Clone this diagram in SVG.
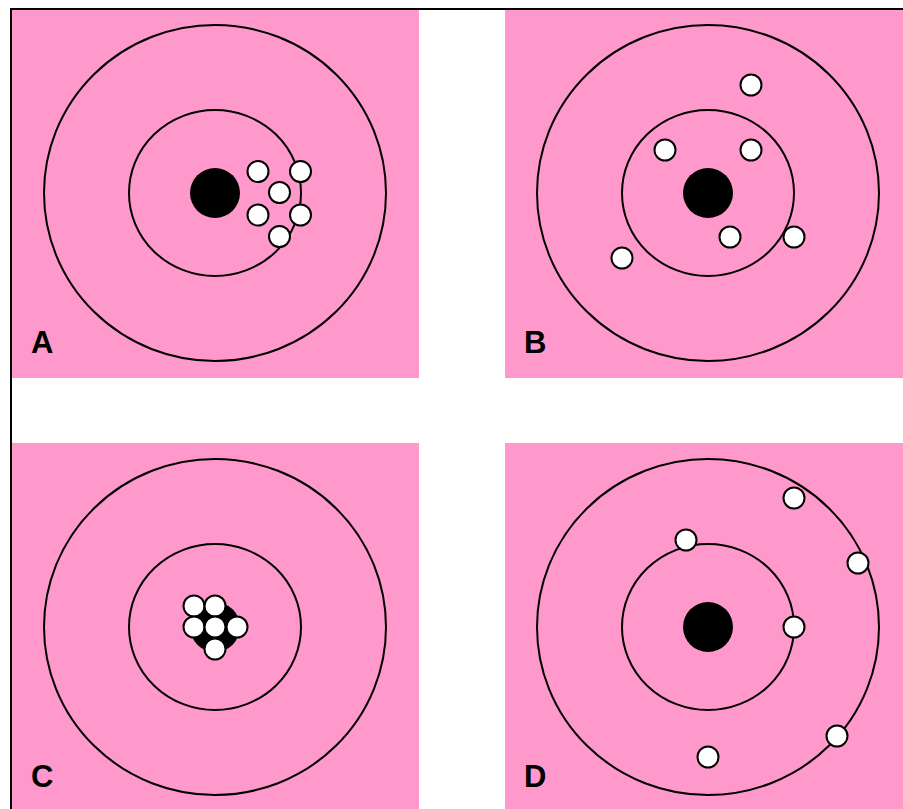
<svg xmlns="http://www.w3.org/2000/svg" width="903" height="809" viewBox="0 0 903 809">
<style>
.bg{fill:#ff99cc}
.ring{fill:none;stroke:#000;stroke-width:2}
.bull{fill:#000}
.shot{fill:#fff;stroke:#000;stroke-width:2}
.lbl{font-family:"Liberation Sans",Arial,sans-serif;font-weight:bold;font-size:31px;fill:#000}
.frame{stroke:#000;stroke-width:2;fill:none}
</style>
<rect width="903" height="809" fill="#fff"/>
<g id="panelA">
<rect class="bg" x="11" y="9" width="408" height="369"/>
<ellipse class="ring" cx="215" cy="193" rx="171" ry="168"/>
<ellipse class="ring" cx="215" cy="193" rx="86" ry="83"/>
<circle class="bull" cx="215" cy="193" r="25"/>
<circle class="shot" cx="258" cy="171.5" r="10.5"/>
<circle class="shot" cx="300.5" cy="171.5" r="10.5"/>
<circle class="shot" cx="279.5" cy="192.5" r="10.5"/>
<circle class="shot" cx="258" cy="215" r="10.5"/>
<circle class="shot" cx="300.5" cy="215" r="10.5"/>
<circle class="shot" cx="279.5" cy="236.5" r="10.5"/>
<text class="lbl" x="31" y="353">A</text>
</g>
<g id="panelB">
<rect class="bg" x="505" y="9" width="398" height="369"/>
<ellipse class="ring" cx="708" cy="193" rx="171" ry="168"/>
<ellipse class="ring" cx="708" cy="193" rx="86" ry="83"/>
<circle class="bull" cx="708" cy="193" r="25"/>
<circle class="shot" cx="751" cy="85" r="10.5"/>
<circle class="shot" cx="665" cy="150" r="10.5"/>
<circle class="shot" cx="751" cy="150" r="10.5"/>
<circle class="shot" cx="730" cy="237" r="10.5"/>
<circle class="shot" cx="794" cy="237" r="10.5"/>
<circle class="shot" cx="622" cy="258" r="10.5"/>
<text class="lbl" x="524" y="353">B</text>
</g>
<g id="panelC">
<rect class="bg" x="11" y="443" width="408" height="366"/>
<ellipse class="ring" cx="215" cy="627" rx="171" ry="168"/>
<ellipse class="ring" cx="215" cy="627" rx="86" ry="83"/>
<circle class="bull" cx="215" cy="627" r="25"/>
<circle class="shot" cx="194" cy="606" r="10.5"/>
<circle class="shot" cx="215" cy="606" r="10.5"/>
<circle class="shot" cx="194" cy="627" r="10.5"/>
<circle class="shot" cx="215" cy="627" r="10.5"/>
<circle class="shot" cx="237" cy="627" r="10.5"/>
<circle class="shot" cx="215" cy="649" r="10.5"/>
<text class="lbl" x="31" y="787">C</text>
</g>
<g id="panelD">
<rect class="bg" x="505" y="443" width="398" height="366"/>
<ellipse class="ring" cx="708" cy="627" rx="171" ry="168"/>
<ellipse class="ring" cx="708" cy="627" rx="86" ry="83"/>
<circle class="bull" cx="708" cy="627" r="25"/>
<circle class="shot" cx="794" cy="498" r="10.5"/>
<circle class="shot" cx="686" cy="540" r="10.5"/>
<circle class="shot" cx="858" cy="563" r="10.5"/>
<circle class="shot" cx="794" cy="627" r="10.5"/>
<circle class="shot" cx="837" cy="736" r="10.5"/>
<circle class="shot" cx="708" cy="757" r="10.5"/>
<text class="lbl" x="524" y="787">D</text>
</g>
<g id="frame">
<path class="frame" d="M11 809 V9 H903"/>
</g>
</svg>
